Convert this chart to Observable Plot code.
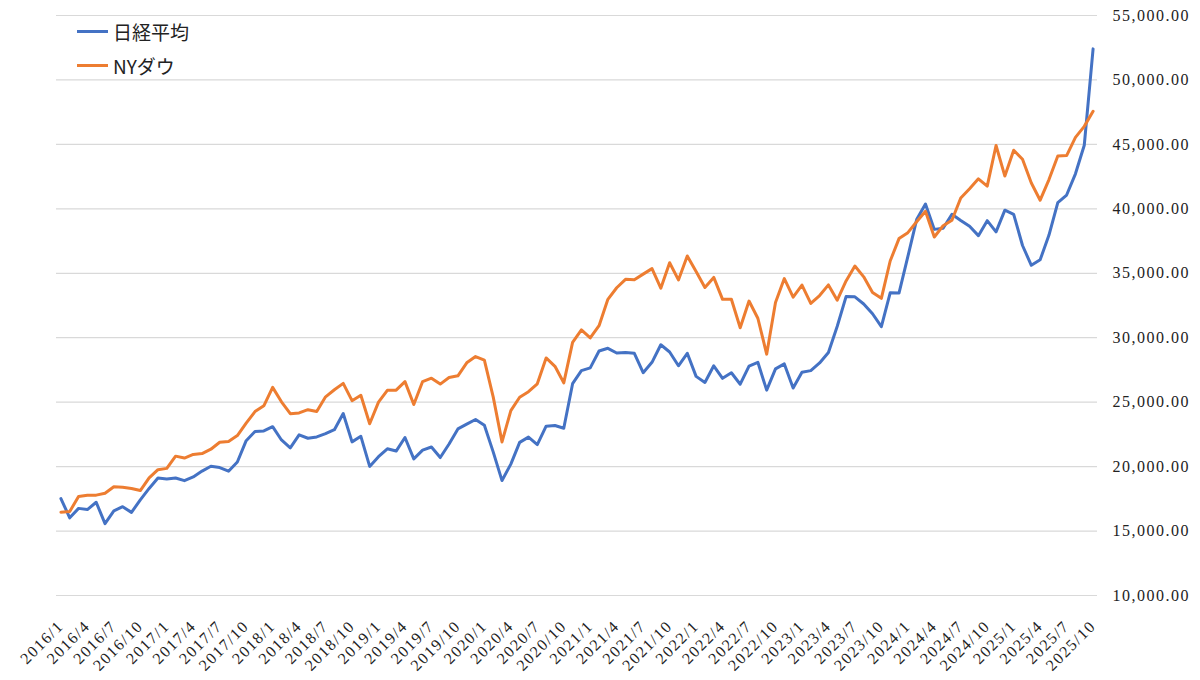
<!DOCTYPE html>
<html>
<head>
<meta charset="utf-8">
<script src="https://cdn.jsdelivr.net/npm/d3@7"></script>
<script src="https://cdn.jsdelivr.net/npm/@observablehq/plot@0.6"></script>
<style>
  html, body { margin: 0; padding: 0; background: #fff; }
  #wrap { position: relative; width: 1200px; height: 680px; }
  #chart svg text { letter-spacing: 1.5px; font-family: "Liberation Serif", "DejaVu Serif", serif !important; }
  #legend { position: absolute; left: 77px; top: 14px; font-family: "Noto Sans CJK JP", sans-serif; font-size: 19px; color: #222; }
  #legend .item { display: flex; align-items: center; height: 34px; }
  #legend .sw { width: 31px; height: 3px; margin-right: 5px; }
</style>
</head>
<body>
<div id="wrap">
  <div id="chart"></div>
  <div id="legend"></div>
</div>
<script>
const years = [2016, 2017, 2018, 2019, 2020, 2021, 2022, 2023, 2024, 2025];
const lastMonth2025 = 10;
const months = [];
for (const y of years) for (let m = 1; m <= 12; m++) { if (y === 2025 && m > lastMonth2025) break; months.push(`${y}/${m}`); }

const seriesNames = ["日経平均", "NYダウ"];
const seriesColors = ["#4472C4", "#ED7D31"];

const nikkei = [
  17518, 16027, 16759, 16666, 17235, 15576, 16569, 16887, 16450, 17425, 18308, 19114,
  19041, 19119, 18909, 19197, 19651, 20033, 19925, 19646, 20356, 22012, 22725, 22765,
  23098, 22068, 21454, 22468, 22202, 22305, 22554, 22865, 24120, 21920, 22351, 20015,
  20773, 21385, 21206, 22259, 20601, 21276, 21522, 20704, 21756, 22927, 23294, 23657,
  23205, 21143, 18917, 20194, 21878, 22288, 21710, 23140, 23185, 22977, 26434, 27444,
  27663, 28966, 29179, 28813, 28860, 28792, 27284, 28090, 29453, 28893, 27822, 28792,
  27002, 26527, 27821, 26848, 27280, 26393, 27802, 28092, 25937, 27587, 27969, 26095,
  27327, 27446, 28041, 28856, 30888, 33189, 33172, 32619, 31858, 30859, 33487, 33464,
  36287, 39166, 40369, 38406, 38488, 39583, 39102, 38648, 37920, 39081, 38208, 39895,
  39572, 37156, 35618, 36045, 37965, 40487, 41070, 42718, 44933, 52411
];
const dow = [
  16466, 16517, 17685, 17774, 17787, 17930, 18432, 18401, 18308, 18142, 19124, 19763,
  19864, 20812, 20663, 20941, 21009, 21350, 21891, 21948, 22405, 23377, 24272, 24719,
  26149, 25029, 24103, 24163, 24416, 24271, 25415, 25965, 26458, 25116, 25538, 23327,
  24999, 25916, 25929, 26593, 24815, 26600, 26864, 26403, 26917, 27046, 28051, 28538,
  28256, 25409, 21917, 24346, 25383, 25813, 26428, 28430, 27782, 26502, 29639, 30606,
  29983, 30932, 32982, 33875, 34529, 34503, 34935, 35361, 33844, 35820, 34484, 36338,
  35132, 33893, 34678, 32977, 32990, 30775, 32845, 31510, 28726, 32733, 34590, 33147,
  34086, 32657, 33274, 34098, 32908, 34408, 35560, 34722, 33508, 33053, 35951, 37690,
  38150, 38996, 39807, 37816, 38686, 39119, 40843, 41563, 42330, 41763, 44911, 42544,
  44545, 43841, 42002, 40669, 42270, 44095, 44131, 45545, 46398, 47563
];
const yTicks = [10000, 15000, 20000, 25000, 30000, 35000, 40000, 45000, 50000, 55000];
const xTicks = months.filter((d, i) => i % 3 === 0);

const rows = [];
months.forEach((m, i) => {
  rows.push({month: m, value: nikkei[i], series: seriesNames[0]});
  rows.push({month: m, value: dow[i], series: seriesNames[1]});
});

const chart = Plot.plot({
  width: 1200,
  height: 680,
  marginLeft: 56,
  marginRight: 103,
  marginTop: 15,
  marginBottom: 85,
  style: {background: "#fff", color: "#222"},
  x: {type: "point", domain: months, padding: 0.5},
  y: {domain: [10000, 55000]},
  color: {domain: seriesNames, range: seriesColors},
  marks: [
    Plot.gridY(yTicks, {stroke: "#d9d9d9", strokeOpacity: 1, strokeWidth: 1.2}),
    Plot.axisY(yTicks, {anchor: "right", tickSize: 0, tickPadding: 15, tickFormat: d3.format(",.2f"), fontSize: 16, label: null}),
    Plot.axisX(xTicks, {tickSize: 0, tickRotate: -45, tickPadding: 28, fontSize: 16, label: null}),
    Plot.line(rows, {x: "month", y: "value", z: "series", stroke: "series", strokeWidth: 3, strokeLinejoin: "round", strokeLinecap: "round"})
  ]
});
document.getElementById("chart").appendChild(chart);

const legend = document.getElementById("legend");
seriesNames.forEach((n, i) => {
  const it = document.createElement("div");
  it.className = "item";
  it.innerHTML = `<span class="sw" style="background:${seriesColors[i]}"></span><span>${n}</span>`;
  legend.appendChild(it);
});
</script>
</body>
</html>
